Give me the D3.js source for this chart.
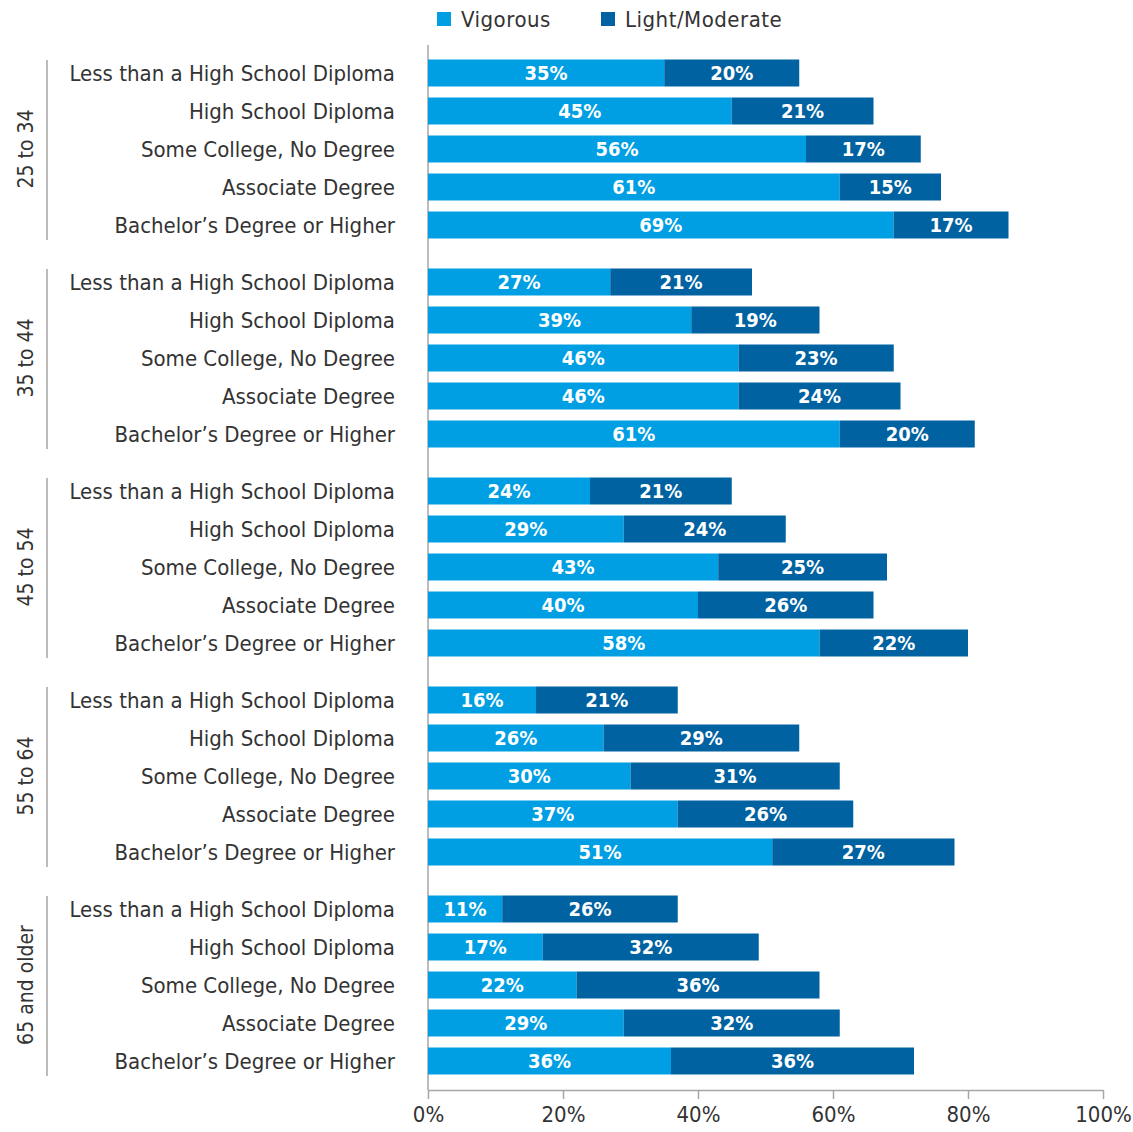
<!DOCTYPE html>
<html>
<head>
<meta charset="utf-8">
<script src="https://cdn.jsdelivr.net/npm/d3@7"></script>
<style>
  body { margin: 0; background: #fff; }
  text { font-family: "Liberation Sans Narrow", "DejaVu Sans Condensed", "Arial Narrow", sans-serif; }
</style>
</head>
<body>
<svg id="chart"></svg>
<script>
const ageGroups = ["25 to 34", "35 to 44", "45 to 54", "55 to 64", "65 and older"];
const educationLevels = [
  "Less than a High School Diploma",
  "High School Diploma",
  "Some College, No Degree",
  "Associate Degree",
  "Bachelor's Degree or Higher"
];
const seriesNames = ["Vigorous", "Light/Moderate"];

// one row per age group, in the order of educationLevels
const vigorous = [
  [35, 45, 56, 61, 69],
  [27, 39, 46, 46, 61],
  [24, 29, 43, 40, 58],
  [16, 26, 30, 37, 51],
  [11, 17, 22, 29, 36]
];
const lightModerate = [
  [20, 21, 17, 15, 17],
  [21, 19, 23, 24, 20],
  [21, 24, 25, 26, 22],
  [21, 29, 31, 26, 27],
  [26, 32, 36, 32, 36]
];
const xTicks = [0, 20, 40, 60, 80, 100];

const width = 1133, height = 1132;
const colors = { "Vigorous": "#009fe3", "Light/Moderate": "#0062a0" };
const groupStep = educationLevels.length + 0.5;  // slots per age group incl. gap

const svg = d3.select("#chart").attr("width", width).attr("height", height);

// flatten into rows
const rows = [];
ageGroups.forEach((g, gi) => {
  educationLevels.forEach((lvl, li) => {
    rows.push({
      group: g, level: lvl,
      slot: gi * groupStep + li,
      "Vigorous": vigorous[gi][li],
      "Light/Moderate": lightModerate[gi][li]
    });
  });
});

const maxSlot = d3.max(rows, d => d.slot);
const x = d3.scaleLinear().domain([0, 100]).range([428, 1103]);
const y = d3.scaleLinear().domain([0, maxSlot]).range([73, 1061]);
const barH = 27;

const stacked = d3.stack().keys(seriesNames)(rows);

// vertical axis line
svg.append("line")
  .attr("x1", x(0)).attr("x2", x(0))
  .attr("y1", 45).attr("y2", 1090)
  .attr("stroke", "#a6a6a6").attr("stroke-width", 1.5);

// bars
const layers = svg.append("g").selectAll("g")
  .data(stacked)
  .join("g")
  .attr("fill", d => colors[d.key]);

layers.selectAll("rect")
  .data(d => d)
  .join("rect")
  .attr("x", d => x(d[0]))
  .attr("width", d => x(d[1]) - x(d[0]))
  .attr("y", d => y(d.data.slot) - barH / 2)
  .attr("height", barH);

layers.each(function(layer) {
  d3.select(this).selectAll("text")
    .data(layer)
    .join("text")
    .attr("x", d => (x(d[0]) + x(d[1])) / 2)
    .attr("y", d => y(d.data.slot))
    .attr("dy", "0.36em")
    .attr("text-anchor", "middle")
    .attr("fill", "#fff")
    .style("font-size", "20px")
    .style("font-weight", "bold")
    .text(d => d.data[layer.key] + "%");
});

// category labels
svg.append("g").selectAll("text")
  .data(rows)
  .join("text")
  .attr("x", 395)
  .attr("y", d => y(d.slot))
  .attr("dy", "0.36em")
  .attr("text-anchor", "end")
  .attr("fill", "#333")
  .style("font-size", "22px")
  .text(d => d.level.replace("'", "\u2019"));

// age group brackets and labels
const groupG = svg.append("g").selectAll("g")
  .data(ageGroups)
  .join("g");

groupG.append("line")
  .attr("x1", 47).attr("x2", 47)
  .attr("y1", (d, i) => y(i * groupStep) - 13)
  .attr("y2", (d, i) => y(i * groupStep + educationLevels.length - 1) + 15)
  .attr("stroke", "#a6a6a6").attr("stroke-width", 1.5);

groupG.append("text")
  .attr("transform", (d, i) => `translate(25,${y(i * groupStep + (educationLevels.length - 1) / 2)}) rotate(-90)`)
  .attr("dy", "0.36em")
  .attr("text-anchor", "middle")
  .attr("fill", "#333")
  .style("font-size", "21px")
  .text(d => d);

// x axis
const xAxis = svg.append("g")
  .attr("transform", "translate(0,1090)")
  .call(d3.axisBottom(x).tickValues(xTicks).tickSize(9).tickSizeOuter(0).tickFormat(d => d + "%"));
xAxis.select(".domain").attr("stroke", "#a6a6a6").attr("stroke-width", 1.5);
xAxis.selectAll(".tick line").attr("stroke", "#a6a6a6").attr("stroke-width", 1.5);
xAxis.selectAll(".tick text")
  .attr("fill", "#333")
  .attr("y", 16)
  .style("font-size", "22px")
  .style("font-family", "'Liberation Sans Narrow', 'DejaVu Sans Condensed', sans-serif");

// legend
const legend = svg.append("g").selectAll("g")
  .data(seriesNames)
  .join("g")
  .attr("transform", (d, i) => `translate(${[437, 601][i]},12)`);
legend.append("rect")
  .attr("width", 14).attr("height", 14)
  .attr("fill", d => colors[d]);
legend.append("text")
  .attr("x", 24).attr("y", 7)
  .attr("dy", "0.36em")
  .attr("fill", "#333")
  .style("font-size", "22px")
  .style("letter-spacing", "0.5px")
  .text(d => d);
</script>
</body>
</html>
